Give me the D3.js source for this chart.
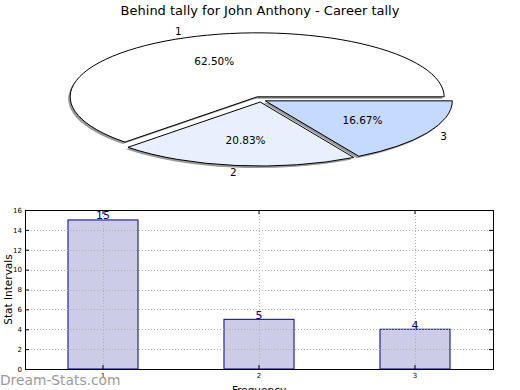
<!DOCTYPE html>
<html><head><meta charset="utf-8">
<script src="https://cdn.jsdelivr.net/npm/d3@7"></script>
<style>body{margin:0;background:#fff}svg{display:block;font-family:"DejaVu Sans",sans-serif}</style>
</head><body>
<svg id="c" width="520" height="390"></svg>
<script>
const title = "Behind tally for John Anthony - Career tally";
const categories = ["1", "2", "3"];
const values = [15, 5, 4];
const pieColors = ["#ffffff", "#e9f0fd", "#c6d9ff"];
const explode = [10, 6, 5];
const yTicks = [0, 2, 4, 6, 8, 10, 12, 14, 16];
const yLabel = "Stat Intervals";
const xLabel = "Frequency";
const watermark = "Dream-Stats.com";

const svg = d3.select("#c");

svg.append("text").attr("x", 260).attr("y", 15).attr("text-anchor", "middle")
  .attr("font-size", 13).attr("fill", "#000").text(title);

// ---------- Pie ----------
const cx = 261, cy = 100, r = 187, k = 64 / 187;
const total = d3.sum(values);
const pie = d3.pie().sort(null).startAngle(Math.PI / 2).endAngle(Math.PI / 2 - 2 * Math.PI);
const arcs = pie(values);
const arc = d3.arc().innerRadius(0).outerRadius(r);

function off(d, i) {
  const a = (d.startAngle + d.endAngle) / 2;
  return [explode[i] * Math.sin(a), -explode[i] * Math.cos(a)];
}
const pg = svg.append("g");
// shadow
arcs.forEach((d, i) => {
  const o = off(d, i);
  pg.append("path").attr("d", arc(d))
    .attr("transform", `translate(${cx - 2},${cy + 2}) scale(1,${k}) translate(${o[0]},${o[1]})`)
    .attr("fill", "#000").attr("fill-opacity", 0.4);
});
arcs.forEach((d, i) => {
  const o = off(d, i);
  pg.append("path").attr("d", arc(d))
    .attr("transform", `translate(${cx},${cy}) scale(1,${k}) translate(${o[0]},${o[1]})`)
    .attr("fill", pieColors[i]).attr("stroke", "#000").attr("stroke-width", 1)
    .attr("vector-effect", "non-scaling-stroke");
});
arcs.forEach((d, i) => {
  const o = off(d, i);
  const a = (d.startAngle + d.endAngle) / 2;
  const px = (f) => cx + o[0] + f * r * Math.sin(a);
  const py = (f) => cy + (o[1] - f * r * Math.cos(a)) * k;
  svg.append("text").attr("x", px(0.6)).attr("y", py(0.6)).attr("dy", "0.35em")
    .attr("text-anchor", "middle").attr("font-size", 10.5).text((values[i] / total * 100).toFixed(2) + "%");
  svg.append("text").attr("x", px(1.1)).attr("y", py(1.1)).attr("dy", "0.35em")
    .attr("text-anchor", "middle").attr("font-size", 10.5).text(categories[i]);
});

// ---------- Bars ----------
const L = 25, R = 493, T = 210, B = 369;
const x = d3.scaleBand().domain(categories).range([L, R]).paddingInner(0.551).paddingOuter(0.2755);
const y = d3.scaleLinear().domain([0, 16]).range([B, T]);
const bg = svg.append("g");

bg.selectAll("rect.bar").data(values).join("rect").attr("class", "bar")
  .attr("x", (d, i) => x(categories[i])).attr("y", d => y(d))
  .attr("width", x.bandwidth()).attr("height", d => B - y(d))
  .attr("fill", "#ccccE6").attr("stroke", "#00008b").attr("stroke-width", 1);

// grid
const grid = bg.append("g").attr("stroke", "#b0b0b0").attr("stroke-dasharray", "1,2").attr("stroke-width", 1);
yTicks.slice(1, -1).forEach(t => grid.append("line").attr("x1", L).attr("x2", R).attr("y1", Math.round(y(t)) + 0.5).attr("y2", Math.round(y(t)) + 0.5));
categories.forEach(c => {
  const xc = Math.round(x(c) + x.bandwidth() / 2) + 0.5;
  grid.append("line").attr("x1", xc).attr("x2", xc).attr("y1", T).attr("y2", B);
});

// axes
const yAx = bg.append("g").attr("transform", `translate(${L},0)`)
  .call(d3.axisLeft(y).tickValues(yTicks).tickSize(-4).tickPadding(3));
const yAxR = bg.append("g").attr("transform", `translate(${R},0)`)
  .call(d3.axisRight(y).tickValues(yTicks).tickSize(-4).tickFormat(""));
const xAx = bg.append("g").attr("transform", `translate(0,${B})`)
  .call(d3.axisBottom(x).tickSize(-4).tickPadding(4));
const xAxT = bg.append("g").attr("transform", `translate(0,${T})`)
  .call(d3.axisTop(x).tickSize(-4).tickFormat(""));
[yAx, yAxR, xAx, xAxT].forEach(g => {
  g.select(".domain").remove();
  g.selectAll("text").attr("font-size", 7).attr("fill", "#000").attr("font-family", "DejaVu Sans");
  g.selectAll("line").attr("stroke", "#000");
});
bg.append("rect").attr("x", L + 0.5).attr("y", T + 0.5).attr("width", R - L).attr("height", B - T)
  .attr("fill", "none").attr("stroke", "#000").attr("stroke-width", 1);

bg.selectAll("text.val").data(values).join("text").attr("class", "val")
  .attr("x", (d, i) => x(categories[i]) + x.bandwidth() / 2).attr("y", d => y(d) - 0.5)
  .attr("text-anchor", "middle").attr("font-size", 11).attr("fill", "#00008b").text(d => d);

svg.append("text").attr("transform", `translate(8,${(T + B) / 2}) rotate(-90)`)
  .attr("text-anchor", "middle").attr("dy", "0.35em").attr("font-size", 10.5).text(yLabel);
svg.append("text").attr("x", (L + R) / 2).attr("y", 394).attr("text-anchor", "middle")
  .attr("font-size", 10.5).text(xLabel);
svg.append("text").attr("x", 0).attr("y", 385).attr("font-size", 13.8)
  .attr("fill", "#999999").text(watermark);
</script>
</body></html>
